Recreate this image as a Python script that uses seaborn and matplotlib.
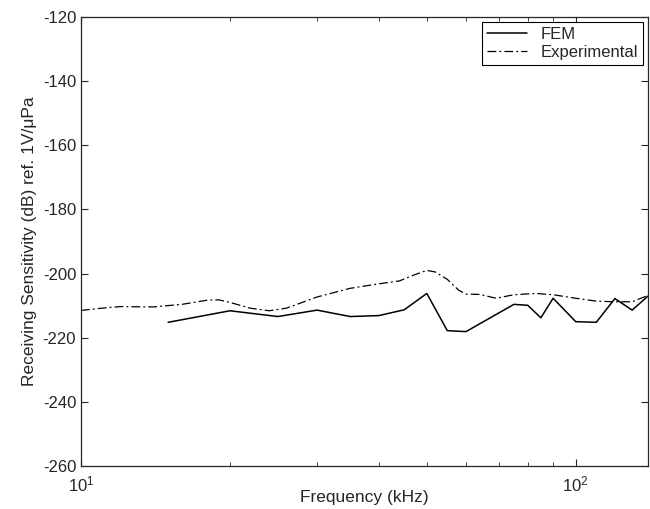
import numpy as np
import pandas as pd
import matplotlib
matplotlib.use("Agg")
import matplotlib.pyplot as plt
import seaborn as sns

# FEM results (kHz, dB)
fem_freq = [15, 20, 25, 30, 35, 40, 45, 50, 55, 60, 75, 80, 85, 90, 100, 110, 120, 130, 140]
fem_sens = [-215.2, -211.6, -213.4, -211.4, -213.4, -213.1, -211.3, -206.2, -217.8, -218.1,
            -209.6, -209.9, -213.8, -207.7, -215.0, -215.2, -207.8, -211.4, -207.0]

# measured curve
exp_freq = [10, 11, 12, 14, 16, 18, 19, 20, 22, 24, 26, 28, 30, 35, 40, 44, 47, 50, 52,
            55, 58, 60, 64, 69, 75, 83, 90, 100, 110, 120, 130, 140]
exp_sens = [-211.5, -210.8, -210.3, -210.4, -209.6, -208.3, -208.2, -209.0, -210.8, -211.6,
            -210.8, -209.0, -207.3, -204.6, -203.2, -202.3, -200.5, -199.0, -199.5,
            -201.8, -205.2, -206.4, -206.5, -207.7, -206.6, -206.2, -206.6, -207.7,
            -208.6, -208.8, -208.8, -206.8]

sns.set_style("ticks")
plt.rcParams['font.family'] = ['Liberation Sans', 'DejaVu Sans']
plt.rcParams['axes.unicode_minus'] = False

df_fem = pd.DataFrame({'f': fem_freq, 's': fem_sens})
df_exp = pd.DataFrame({'f': exp_freq, 's': exp_sens})

fig = plt.figure(figsize=(6.5, 5.09), dpi=100)
ax = fig.add_axes([0.1246, 0.0845, 0.8724, 0.8821])

sns.lineplot(data=df_fem, x='f', y='s', ax=ax, color='black', linewidth=1.1, label='FEM')
sns.lineplot(data=df_exp, x='f', y='s', ax=ax, color='black', linewidth=0.9,
             linestyle=(0, (7, 2.5, 1.5, 2.5)), label='Experimental')

ax.set_xscale('log')
ax.set_xlim(10, 140)
ax.set_ylim(-260, -120)
ax.set_yticks(np.arange(-260, -119, 20))
ax.tick_params(which='both', direction='in', top=True, right=True, labelsize=12)
ax.tick_params(which='major', length=5)
ax.tick_params(which='minor', length=3)
ax.tick_params(axis='x', which='major', pad=6)
for s in ax.spines.values():
    s.set_linewidth(0.9)

ax.set_xlabel('Frequency (kHz)', fontsize=12.5, labelpad=-3)
ax.set_ylabel('Receiving Sensitivity (dB) ref. 1V/\u03bcPa', fontsize=12.5, labelpad=4)

leg = ax.legend(loc='upper right', fontsize=12, frameon=True, fancybox=False,
                edgecolor='black', framealpha=1, handlelength=2.4,
                borderaxespad=0.3, labelspacing=0.15, borderpad=0.3)
leg.get_frame().set_linewidth(0.8)

fig.savefig('out.png', dpi=100)
